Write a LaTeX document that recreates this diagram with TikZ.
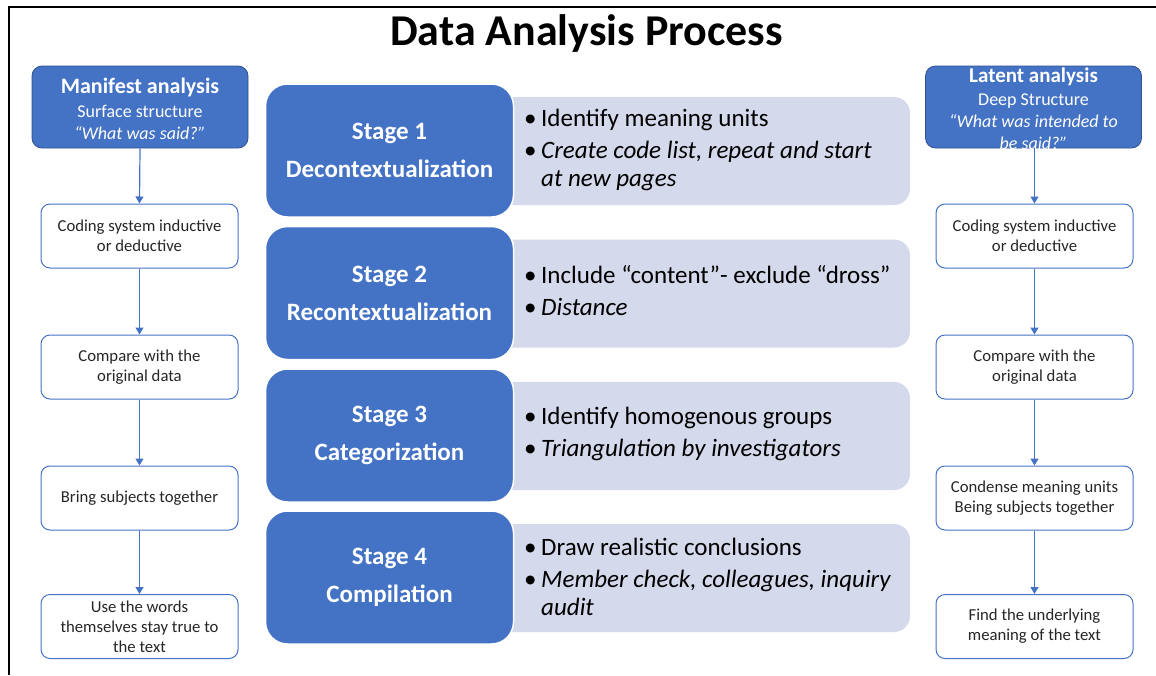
\documentclass[tikz,border=0pt]{standalone}
\usepackage{fontspec}
\setmainfont{Carlito}
\usetikzlibrary{arrows.meta}
\definecolor{officeblue}{HTML}{4472C4}
\definecolor{edgeblue}{HTML}{2F528F}
\definecolor{paleblue}{HTML}{D4D9EB}
\definecolor{inktext}{HTML}{262626}
\newcommand{\bul}{\makebox[17pt][l]{\textbullet}}
\newcommand{\ind}{\hspace*{17pt}}
\begin{document}
\begin{tikzpicture}[x=1pt,y=-1pt,
  headbox/.style={fill=officeblue, draw=edgeblue, line width=0.8, rounded corners=10,
    minimum width=216, minimum height=82, inner sep=0},
  headtext/.style={text=white, align=center, inner sep=0, font=\fontsize{18}{22}\selectfont},
  stagebox/.style={fill=officeblue, draw=white, line width=1.5, rounded corners=22,
    minimum width=248, minimum height=133, text=white, align=center,
    font=\fontsize{25}{38}\selectfont\bfseries},
  notebox/.style={fill=paleblue, rounded corners=16, minimum width=420, minimum height=108},
  notetext/.style={anchor=west, align=left, inner sep=0, font=\fontsize{25}{28}\selectfont},
  stepbox/.style={draw=officeblue, line width=1, rounded corners=9, fill=white,
    minimum width=197, minimum height=64, align=center, text=inktext, inner sep=0,
    font=\fontsize{16.7}{20}\selectfont},
  flow/.style={draw=officeblue, line width=1.2, -{Triangle[length=7,width=8]}},
]
\useasboundingbox (0,0) rectangle (1156,675);

% frame lines along the left and top edges
\draw[line width=2] (9,675) -- (9,7) -- (1156,7);

% title
\node[anchor=base, inner sep=0, font=\fontsize{44}{50}\selectfont\bfseries] (title)
  at (586.5,45) {Data Analysis Process};

% centre column: pale note panels behind the stage boxes
\node[notebox] (n1) at (700,151) {};
\node[notebox] (n2) at (700,293.5) {};
\node[notebox] (n3) at (700,436) {};
\node[notebox] (n4) at (700,578) {};

\node[stagebox] (s1) at (389.5,150.5) {Stage 1\\Decontextualization};
\node[stagebox] (s2) at (389.5,293) {Stage 2\\Recontextualization};
\node[stagebox] (s3) at (389.5,435.5) {Stage 3\\Categorization};
\node[stagebox] (s4) at (389.5,577.5) {Stage 4\\Compilation};

\node[notetext] (t1) at (524,150) {\bul Identify meaning units\\[4pt]
  \bul\textit{Create code list, repeat and start}\\ \ind\textit{at new pages}};
\node[notetext] (t2) at (524,291) {\bul Include “content”- exclude “dross”\\[4pt]
  \bul\textit{Distance}};
\node[notetext] (t3) at (524,434) {\bul Identify homogenous groups\\[4pt]
  \bul\textit{Triangulation by investigators}};
\node[notetext] (t4) at (524,577) {\bul Draw realistic conclusions\\[4pt]
  \bul\textit{Member check, colleagues, inquiry}\\ \ind\textit{audit}};

% left column: manifest analysis
\node[headbox] (man) at (140,107) {};
\node[headtext] (mantext) at (140,109) {{\fontsize{22}{24}\selectfont\bfseries Manifest analysis}\\[2pt]
  Surface structure\\
  \textit{“What was said?”}};
\node[stepbox] (l1) at (139.5,236) {Coding system inductive\\or deductive};
\node[stepbox] (l2) at (139.5,367) {Compare with the\\original data};
\node[stepbox] (l3) at (139.5,498) {Bring subjects together};
\node[stepbox] (l4) at (139.5,626.5) {Use the words\\themselves stay true to\\the text};

% right column: latent analysis
\node[headbox] (lat) at (1033.5,107) {};
\node[headtext] (lattext) at (1033.5,109) {{\fontsize{21}{23}\selectfont\bfseries Latent analysis}\\[1pt]
  Deep Structure\\
  \textit{“What was intended to}\\
  \textit{be said?”}};
\node[stepbox] (r1) at (1034.5,236) {Coding system inductive\\or deductive};
\node[stepbox] (r2) at (1034.5,367) {Compare with the\\original data};
\node[stepbox] (r3) at (1034.5,498) {Condense meaning units\\Being subjects together};
\node[stepbox] (r4) at (1034.5,626.5) {Find the underlying\\meaning of the text};

% connectors
\draw[flow] (man.south) -- (l1.north);
\draw[flow] (l1.south) -- (l2.north);
\draw[flow] (l2.south) -- (l3.north);
\draw[flow] (l3.south) -- (l4.north);
\draw[flow] (lat.south -| r1.north) -- (r1.north);
\draw[flow] (r1.south) -- (r2.north);
\draw[flow] (r2.south) -- (r3.north);
\draw[flow] (r3.south) -- (r4.north);
\end{tikzpicture}
\end{document}
